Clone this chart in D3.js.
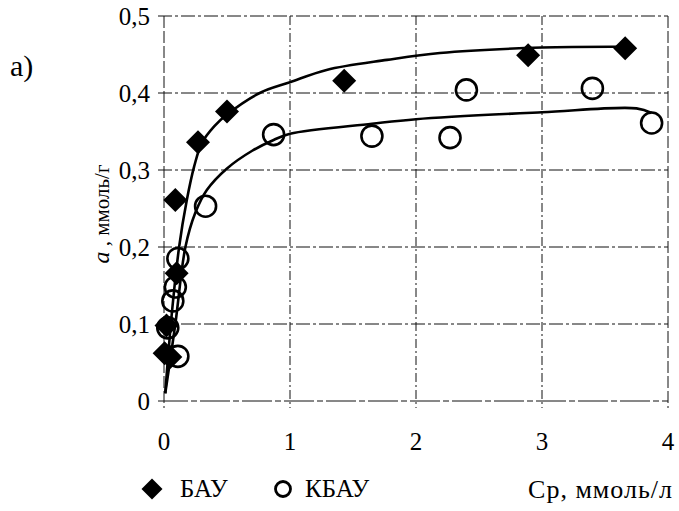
<!DOCTYPE html>
<html><head><meta charset="utf-8">
<script src="https://cdn.jsdelivr.net/npm/d3@7"></script>
<style>body{margin:0;background:#fff}svg{display:block}text{font-family:"Liberation Serif","Times New Roman",serif;fill:#000}</style>
</head><body>
<script>
// ---- data ----
const xTicks = [0, 1, 2, 3, 4];
const yTicks = [0, 0.1, 0.2, 0.3, 0.4, 0.5];
const seriesNames = ["БАУ", "КБАУ"];
const bauX = [0.005, 0.05, 0.02, 0.10, 0.09, 0.27, 0.50, 1.43, 2.89, 3.66];
const bauY = [0.062, 0.057, 0.098, 0.166, 0.261, 0.336, 0.376, 0.416, 0.449, 0.458];
const kbauX = [0.03, 0.11, 0.07, 0.09, 0.11, 0.33, 0.87, 1.65, 2.27, 2.40, 3.40, 3.87];
const kbauY = [0.095, 0.058, 0.130, 0.148, 0.185, 0.253, 0.346, 0.344, 0.342, 0.404, 0.406, 0.361];
// fitted curves
const bauCurveX = [0.01, 0.06, 0.12, 0.18, 0.24, 0.30, 0.40, 0.50, 0.76, 1.00, 1.29, 1.77, 2.19, 3.00, 3.66];
const bauCurveY = [0.010, 0.110, 0.200, 0.260, 0.305, 0.335, 0.357, 0.372, 0.400, 0.414, 0.430, 0.443, 0.452, 0.459, 0.460];
const kbauCurveX = [0.01, 0.09, 0.17, 0.25, 0.34, 0.50, 0.70, 0.87, 1.00, 1.65, 2.00, 3.00, 3.75, 3.87];
const kbauCurveY = [0.010, 0.100, 0.200, 0.245, 0.274, 0.302, 0.325, 0.339, 0.347, 0.360, 0.366, 0.375, 0.380, 0.374];

const W = 679, H = 511;
const svg = d3.select("body").append("svg").attr("width", W).attr("height", H);
const x = d3.scaleLinear().domain([0, 4]).range([164, 668]);
const y = d3.scaleLinear().domain([0, 0.5]).range([401, 16]);
const fmt = v => String(v).replace(".", ",");

// grid
const g = svg.append("g");
g.selectAll("line.vg").data(xTicks).join("line")
  .attr("x1", d => x(d)).attr("x2", d => x(d)).attr("y1", y(0.5)).attr("y2", y(0) + 7)
  .attr("stroke", "#111").attr("stroke-width", 1).attr("stroke-dasharray", d => d === 0 || d === 4 ? "12,3" : "9,3,2,3");
g.selectAll("line.hg").data(yTicks).join("line")
  .attr("x1", x(0) - 6).attr("x2", x(4)).attr("y1", d => y(d)).attr("y2", d => y(d))
  .attr("stroke", "#111").attr("stroke-width", 1).attr("stroke-dasharray", d => d === 0 ? "30,3,6,3" : "14,3,3,3");

// tick labels
svg.selectAll("text.xt").data(xTicks).join("text")
  .attr("x", d => x(d)).attr("y", 450).attr("text-anchor", "middle")
  .style("font-size", "25px").text(d => d);
svg.selectAll("text.yt").data(yTicks).join("text")
  .attr("x", 150).attr("y", d => y(d) + 9).attr("text-anchor", "end")
  .style("font-size", "25px").text(d => fmt(d));

// curves
const line = d3.line().x(d => x(d[0])).y(d => y(d[1])).curve(d3.curveCatmullRom.alpha(0.5));
svg.append("path").datum(d3.zip(bauCurveX, bauCurveY)).attr("d", line)
  .attr("fill", "none").attr("stroke", "#000").attr("stroke-width", 2.6);
svg.append("path").datum(d3.zip(kbauCurveX, kbauCurveY)).attr("d", line)
  .attr("fill", "none").attr("stroke", "#000").attr("stroke-width", 2.6);

// markers
function diamondPath(size) {
  const r = size / 2;
  return `M0,${-r}L${r},0L0,${r}L${-r},0Z`;
}
svg.selectAll("circle.k").data(d3.zip(kbauX, kbauY)).join("circle")
  .attr("cx", d => x(d[0])).attr("cy", d => y(d[1])).attr("r", 10.5)
  .attr("fill", "none").attr("stroke", "#000").attr("stroke-width", 2.6);
svg.selectAll("path.b").data(d3.zip(bauX, bauY)).join("path")
  .attr("transform", d => `translate(${x(d[0])},${y(d[1])})`)
  .attr("d", diamondPath(24)).attr("fill", "#000");

// axis titles
svg.append("text").attr("x", 10).attr("y", 76).style("font-size", "30px").text("а)");
const yl = svg.append("text").attr("transform", "translate(109,214) rotate(-90)")
  .attr("text-anchor", "middle").style("font-size", "21px");
yl.append("tspan").style("font-style", "italic").style("font-size", "24px").text("a");
yl.append("tspan").text(" , ммоль/г");
svg.append("text").attr("x", 673).attr("y", 498).attr("text-anchor", "end")
  .style("font-size", "26px").style("letter-spacing", "1px").text("Ср, ммоль/л");

// legend
const lg = svg.append("g");
lg.append("path").attr("transform", "translate(152,489)").attr("d", diamondPath(21)).attr("fill", "#000");
lg.append("text").attr("x", 180).attr("y", 497).style("font-size", "25px").text(seriesNames[0]);
lg.append("circle").attr("cx", 283).attr("cy", 489).attr("r", 7.5).attr("fill", "none")
  .attr("stroke", "#000").attr("stroke-width", 2.8);
lg.append("text").attr("x", 305).attr("y", 497).style("font-size", "25px").text(seriesNames[1]);
</script>
</body></html>
